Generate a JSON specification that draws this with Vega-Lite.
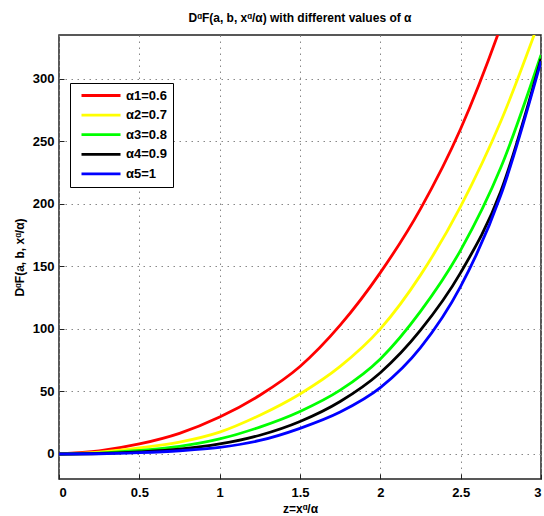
{
  "$schema": "https://vega.github.io/schema/vega-lite/v6.json",
  "autosize": "none",
  "width": 482,
  "height": 444,
  "padding": {"left": 59, "top": 35, "right": 3, "bottom": 37},
  "background": "white",
  "title": {"text": "DᵅF(a, b, xᵅ/α) with different values of α", "font": "Liberation Sans", "fontSize": 12, "fontWeight": "bold", "color": "black", "offset": 10},
  "data": {"values": [
    {"z":0,"v":0,"s":"α1=0.6"},{"z":0.25,"v":2.5,"s":"α1=0.6"},{"z":0.5,"v":8,"s":"α1=0.6"},{"z":0.75,"v":16.5,"s":"α1=0.6"},{"z":1,"v":29.5,"s":"α1=0.6"},{"z":1.25,"v":47,"s":"α1=0.6"},{"z":1.5,"v":70,"s":"α1=0.6"},{"z":1.75,"v":103,"s":"α1=0.6"},{"z":2,"v":145,"s":"α1=0.6"},{"z":2.25,"v":196,"s":"α1=0.6"},{"z":2.5,"v":260,"s":"α1=0.6"},{"z":2.75,"v":342,"s":"α1=0.6"},{"z":3,"v":440,"s":"α1=0.6"},
    {"z":0,"v":0,"s":"α2=0.7"},{"z":0.25,"v":1.4,"s":"α2=0.7"},{"z":0.5,"v":4.8,"s":"α2=0.7"},{"z":0.75,"v":9.5,"s":"α2=0.7"},{"z":1,"v":17.5,"s":"α2=0.7"},{"z":1.25,"v":31,"s":"α2=0.7"},{"z":1.5,"v":48,"s":"α2=0.7"},{"z":1.75,"v":70,"s":"α2=0.7"},{"z":2,"v":100,"s":"α2=0.7"},{"z":2.25,"v":143,"s":"α2=0.7"},{"z":2.5,"v":198,"s":"α2=0.7"},{"z":2.75,"v":266,"s":"α2=0.7"},{"z":3,"v":350,"s":"α2=0.7"},
    {"z":0,"v":0,"s":"α3=0.8"},{"z":0.25,"v":0.7,"s":"α3=0.8"},{"z":0.5,"v":2.8,"s":"α3=0.8"},{"z":0.75,"v":6,"s":"α3=0.8"},{"z":1,"v":12,"s":"α3=0.8"},{"z":1.25,"v":21.5,"s":"α3=0.8"},{"z":1.5,"v":34,"s":"α3=0.8"},{"z":1.75,"v":51,"s":"α3=0.8"},{"z":2,"v":76,"s":"α3=0.8"},{"z":2.25,"v":114,"s":"α3=0.8"},{"z":2.5,"v":163,"s":"α3=0.8"},{"z":2.75,"v":229,"s":"α3=0.8"},{"z":3,"v":319,"s":"α3=0.8"},
    {"z":0,"v":0,"s":"α4=0.9"},{"z":0.25,"v":0.4,"s":"α4=0.9"},{"z":0.5,"v":1.7,"s":"α4=0.9"},{"z":0.75,"v":3.8,"s":"α4=0.9"},{"z":1,"v":8,"s":"α4=0.9"},{"z":1.25,"v":15,"s":"α4=0.9"},{"z":1.5,"v":26,"s":"α4=0.9"},{"z":1.75,"v":42,"s":"α4=0.9"},{"z":2,"v":65,"s":"α4=0.9"},{"z":2.25,"v":99,"s":"α4=0.9"},{"z":2.5,"v":145,"s":"α4=0.9"},{"z":2.75,"v":210,"s":"α4=0.9"},{"z":3,"v":316,"s":"α4=0.9"},
    {"z":0,"v":0,"s":"α5=1"},{"z":0.25,"v":0.2,"s":"α5=1"},{"z":0.5,"v":1.1,"s":"α5=1"},{"z":0.75,"v":2.6,"s":"α5=1"},{"z":1,"v":5.3,"s":"α5=1"},{"z":1.25,"v":10.8,"s":"α5=1"},{"z":1.5,"v":20.5,"s":"α5=1"},{"z":1.75,"v":33.5,"s":"α5=1"},{"z":2,"v":53,"s":"α5=1"},{"z":2.25,"v":85,"s":"α5=1"},{"z":2.5,"v":134,"s":"α5=1"},{"z":2.75,"v":207,"s":"α5=1"},{"z":3,"v":314,"s":"α5=1"}
  ]},
  "mark": {"type": "line", "clip": true, "strokeWidth": 2.8, "interpolate": "monotone"},
  "encoding": {
    "x": {"field": "z", "type": "quantitative", "scale": {"domain": [0, 3], "nice": false, "zero": false},
      "axis": {"values": [0, 0.5, 1, 1.5, 2, 2.5, 3], "format": "~g", "title": "z=xᵅ/α", "tickSize": -5, "labelPadding": 12}},
    "y": {"field": "v", "type": "quantitative", "scale": {"domain": [-20, 335], "nice": false, "zero": false},
      "axis": {"values": [0, 50, 100, 150, 200, 250, 300], "format": "d", "title": "DᵅF(a, b, xᵅ/α)", "tickSize": -5, "labelPadding": 10, "titlePadding": 6}},
    "color": {"field": "s", "type": "nominal",
      "scale": {"domain": ["α1=0.6", "α2=0.7", "α3=0.8", "α4=0.9", "α5=1"], "range": ["#ff0000", "#ffff00", "#00ff00", "#000000", "#0000ff"]},
      "legend": {"orient": "none", "legendX": 11, "legendY": 48, "title": null, "symbolType": "M-0.2,0H7.6", "symbolSize": 100, "symbolStrokeWidth": 2.8, "labelFont": "Liberation Sans", "labelFontSize": 13, "labelFontWeight": "bold", "labelColor": "black", "strokeColor": "black", "fillColor": "white", "padding": 6, "rowPadding": 5.6, "labelOffset": 37}}
  },
  "config": {
    "view": {"stroke": "#222", "strokeWidth": 1.5},
    "axis": {"labelFont": "Liberation Sans", "labelFontSize": 13, "labelFontWeight": "bold", "labelColor": "black", "titleFont": "Liberation Sans", "titleFontSize": 12, "titleFontWeight": "bold", "titleColor": "black", "domain": false, "tickColor": "#222", "grid": true, "gridColor": "#888", "gridDash": [1.5, 4.5], "gridWidth": 1, "gridOpacity": 1}
  }
}
